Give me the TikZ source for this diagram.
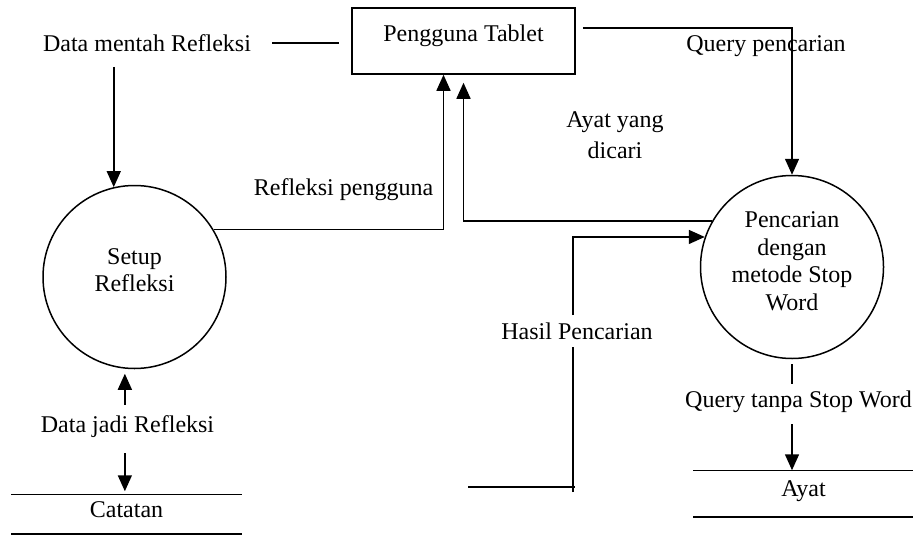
\documentclass[tikz,border=0pt]{standalone}
\usepackage{fontspec}
\setmainfont{Liberation Serif}
\usetikzlibrary{arrows.meta}

\begin{document}
\begin{tikzpicture}[x=0.5pt,y=-0.5pt,line width=0.75pt,>={Triangle[length=8pt,width=7pt]},
  every node/.style={font=\fontsize{12pt}{13.8pt}\selectfont},
  proc node/.style={circle,draw,minimum size=91.5pt,align=center,inner sep=1pt},
  ext node/.style={rectangle,draw,minimum width=111.5pt,inner ysep=3pt,text height=14pt,text depth=13pt},
  store node/.style={minimum height=19pt}]
  \useasboundingbox (0,0) rectangle (913,535);

  \node[ext node] (user) at (463.5,41) {Pengguna Tablet};
  \node[proc node] (setup) at (134.5,277) {Setup\\Refleksi\rule[-7pt]{0pt}{0pt}};
  \node[proc node] (search) at (792,267) {Pencarian\\dengan\\metode Stop\\Word\rule[-6pt]{0pt}{0pt}};
  \node[store node,minimum width=114.5pt] (notes) at (126.5,514) {Catatan\rule[-4pt]{0pt}{0pt}};
  \node[store node,minimum width=109.5pt,minimum height=22.5pt] (ayat) at (803.5,493.5) {Ayat\rule[-5pt]{0pt}{0pt}};

  \node (raw) at (147,43) {Data mentah Refleksi};
  \node (refl) at (343.5,190) {Refleksi pengguna};
  \node[align=center] (found) at (615,135) {Ayat yang\\[2pt]dicari};
  \node (query) at (766,46) {Query pencarian};
  \node (result) at (577,331) {Hasil Pencarian};
  \node (clean) at (798.5,402) {Query tanpa Stop Word};
  \node (done) at (127.5,427) {Data jadi Refleksi};

  \coordinate (r0) at (468,487);
  \coordinate (r1) at (575,487);
  \coordinate (r2) at (573,492);

  % data stores
  \draw (notes.north west) -- (notes.north east) (notes.south west) -- (notes.south east);
  \draw (ayat.north west) -- (ayat.north east) (ayat.south west) -- (ayat.south east);

  \draw[shorten <=7pt,shorten >=6pt] (raw.east) -- (raw.east -| user.west);
  \draw[->,shorten <=4pt] (raw.south -| setup.103) -- (setup.103);
  \draw[->] (setup.31) -| ([xshift=-10pt]user.south);
  \draw[->,shorten >=4pt] (search.150) -| (user.south);
  \draw[->,shorten <=3.5pt] ([yshift=6.5pt]user.east) -| (search.north);
  \draw (r0) -- (r1);
  \draw (r2) -- (result.south -| r2);
  \draw[->] (result.north -| r2) |- (search.161);
  \draw[shorten <=2.5pt] (search.south) -- (clean.north -| search.south);
  \draw[->,shorten <=2pt] (clean.south -| search.south) -- (ayat.north -| search.south);
  \draw[->,shorten <=2pt,shorten >=2.5pt] (done.north -| setup.264) -- (setup.264);
  \draw[->,shorten <=4pt,shorten >=1.5pt] (done.south -| setup.264) -- (notes.north -| setup.264);
\end{tikzpicture}
\end{document}
